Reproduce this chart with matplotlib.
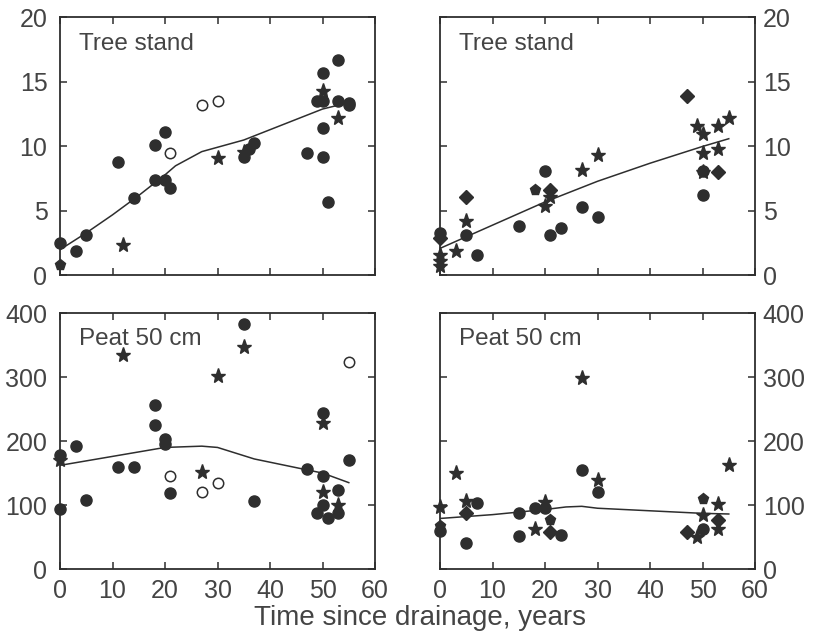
import matplotlib
matplotlib.use("Agg")
import matplotlib.pyplot as plt

plt.rcParams["font.family"] = ["Liberation Sans", "DejaVu Sans"]

INK = "#2e2e2e"
TXT = "#444444"

# ---- Tree stand, left panel ----
tl_circle_x = [0, 3, 5, 11, 14, 18, 18, 20, 20, 21, 35, 36, 37, 47, 49, 50, 50, 50, 50, 51, 53, 53, 55, 55]
tl_circle_y = [2.5, 1.9, 3.1, 8.8, 6.0, 10.1, 7.4, 11.1, 7.4, 6.8, 9.2, 9.8, 10.3, 9.5, 13.5, 15.7, 13.5, 11.4, 9.2, 5.7, 16.7, 13.5, 13.4, 13.2]
tl_open_x = [21, 27, 30]
tl_open_y = [9.5, 13.2, 13.5]
tl_star_x = [12, 30, 35, 50, 53]
tl_star_y = [2.4, 9.1, 9.6, 14.3, 12.2]
tl_pent_x = [0]
tl_pent_y = [0.8]
tl_line_x = [0, 5, 10, 15, 20, 22, 27, 35, 50, 55]
tl_line_y = [2.0, 3.3, 4.7, 6.2, 7.8, 8.5, 9.6, 10.5, 12.9, 13.4]

# ---- Tree stand, right panel ----
tr_circle_x = [0, 5, 7, 15, 20, 21, 23, 27, 30, 50, 50]
tr_circle_y = [3.3, 3.1, 1.6, 3.8, 8.1, 3.1, 3.7, 5.3, 4.5, 8.1, 6.2]
tr_pent_x = [18]
tr_pent_y = [6.6]
tr_diam_x = [0, 5, 21, 47, 53]
tr_diam_y = [2.9, 6.1, 6.6, 13.9, 8.0]
tr_star_x = [0, 0, 0, 3, 5, 20, 21, 27, 30, 49, 50, 50, 50, 53, 53, 55]
tr_star_y = [1.6, 1.1, 0.7, 1.9, 4.2, 5.4, 6.1, 8.2, 9.3, 11.6, 11.0, 9.5, 8.0, 11.6, 9.8, 12.2]
tr_line_x = [0, 10, 20, 30, 40, 50, 55]
tr_line_y = [2.1, 3.9, 5.7, 7.3, 8.7, 10.0, 10.6]

# ---- Peat 50 cm, left panel ----
bl_circle_x = [0, 0, 3, 5, 11, 14, 18, 18, 20, 20, 21, 35, 37, 47, 50, 50, 50, 49, 51, 53, 53, 55]
bl_circle_y = [178, 94, 192, 108, 159, 159, 257, 225, 203, 196, 119, 383, 106, 156, 244, 146, 100, 88, 80, 124, 87, 171]
bl_open_x = [21, 27, 30, 55]
bl_open_y = [146, 121, 135, 323]
bl_star_x = [0, 12, 27, 30, 35, 50, 50, 53]
bl_star_y = [171, 334, 152, 301, 347, 228, 121, 100]
bl_line_x = [0, 10, 20, 27, 30, 37, 47, 50, 55]
bl_line_y = [162, 176, 190, 192, 190, 172, 155, 150, 135]

# ---- Peat 50 cm, right panel ----
br_circle_x = [0, 5, 7, 15, 15, 18, 20, 23, 27, 30, 50]
br_circle_y = [60, 41, 103, 88, 51, 96, 96, 53, 155, 121, 62]
br_pent_x = [0, 21, 50]
br_pent_y = [67, 76, 109]
br_diam_x = [5, 21, 47, 53]
br_diam_y = [87, 58, 58, 76]
br_star_x = [0, 3, 5, 18, 20, 27, 30, 49, 50, 53, 53, 55]
br_star_y = [97, 150, 106, 63, 104, 298, 139, 50, 84, 101, 63, 162]
br_line_x = [0, 10, 15, 20, 24, 27, 30, 40, 50, 55]
br_line_y = [79, 85, 89, 93, 97, 98, 95, 91, 87, 86]

fig = plt.figure(figsize=(8.13, 6.39), dpi=100)
ax_tl = fig.add_axes([0.0738, 0.5689, 0.3875, 0.4038])
ax_tr = fig.add_axes([0.5412, 0.5689, 0.3875, 0.4038])
ax_bl = fig.add_axes([0.0738, 0.1095, 0.3875, 0.4006])
ax_br = fig.add_axes([0.5412, 0.1095, 0.3875, 0.4006])


def dots(ax, x, y, marker, size, filled=True):
    if filled:
        ax.plot(x, y, linestyle="none", marker=marker, markersize=size,
                color=INK, markeredgecolor=INK, zorder=3, clip_on=False)
    else:
        ax.plot(x, y, linestyle="none", marker=marker, markersize=size,
                markerfacecolor="white", markeredgecolor=INK,
                markeredgewidth=1.1, zorder=3, clip_on=False)


def style(ax, ymax, ystep, title, right=False, xlabels=False):
    ax.set_xlim(0, 60)
    ax.set_ylim(0, ymax)
    ax.set_xticks(range(0, 61, 10))
    ax.set_yticks(range(0, ymax + 1, ystep))
    ax.tick_params(direction="in", length=5, width=1.1, color=INK,
                   top=True, right=True, labelsize=18, labelcolor=TXT,
                   labelbottom=xlabels, labelleft=not right, labelright=right)
    ax.tick_params(axis="x", pad=7)
    ax.tick_params(axis="y", pad=5.5 if right else 9)
    for s in ax.spines.values():
        s.set_linewidth(1.3)
        s.set_color(INK)
    ax.text(0.06, 0.874, title, transform=ax.transAxes, fontsize=17.5,
            color=TXT, va="baseline")


for ax, cx, cy, lx, ly in [(ax_tl, tl_circle_x, tl_circle_y, tl_line_x, tl_line_y),
                           (ax_tr, tr_circle_x, tr_circle_y, tr_line_x, tr_line_y),
                           (ax_bl, bl_circle_x, bl_circle_y, bl_line_x, bl_line_y),
                           (ax_br, br_circle_x, br_circle_y, br_line_x, br_line_y)]:
    ax.plot(lx, ly, color=INK, linewidth=1.1, zorder=2)
    dots(ax, cx, cy, "o", 8)

dots(ax_tl, tl_open_x, tl_open_y, "o", 7.5, filled=False)
dots(ax_tl, tl_star_x, tl_star_y, "*", 11)
dots(ax_tl, tl_pent_x, tl_pent_y, "p", 8)

dots(ax_tr, tr_pent_x, tr_pent_y, "p", 8)
dots(ax_tr, tr_diam_x, tr_diam_y, "D", 7)
dots(ax_tr, tr_star_x, tr_star_y, "*", 11)

dots(ax_bl, bl_open_x, bl_open_y, "o", 7.5, filled=False)
dots(ax_bl, bl_star_x, bl_star_y, "*", 11)

dots(ax_br, br_pent_x, br_pent_y, "p", 8)
dots(ax_br, br_diam_x, br_diam_y, "D", 7)
dots(ax_br, br_star_x, br_star_y, "*", 11)

style(ax_tl, 20, 5, "Tree stand")
style(ax_tr, 20, 5, "Tree stand", right=True)
style(ax_bl, 400, 100, "Peat 50 cm", xlabels=True)
style(ax_br, 400, 100, "Peat 50 cm", right=True, xlabels=True)

fig.text(0.517, 0.022, "Time since drainage, years", ha="center",
         va="baseline", fontsize=20, color=TXT)

fig.savefig("out.png", dpi=100)
